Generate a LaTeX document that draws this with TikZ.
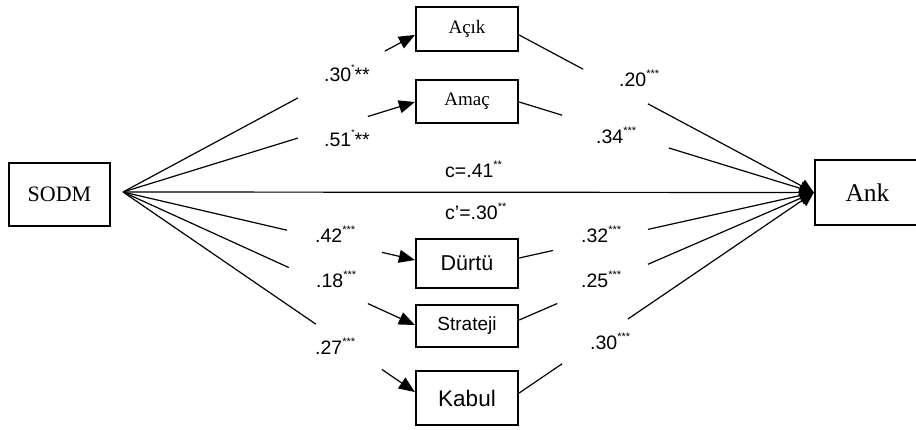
\documentclass[tikz,border=0pt]{standalone}
\usepackage{fontspec}
\setmainfont{Liberation Sans}
\newfontfamily\serifface{Liberation Serif}
\usetikzlibrary{calc,arrows.meta}
\newcommand\sone{\raisebox{10.5pt}{\fontsize{8.5}{8.5}\selectfont *}}
\newcommand\stwo{\raisebox{9pt}{\fontsize{11}{11}\selectfont **}}
\newcommand\sthree{\raisebox{9pt}{\fontsize{11}{11}\selectfont ***}}
\tikzset{
  boxnode/.style={draw, line width=2.3pt, inner sep=0pt, minimum width=102pt},
  conn/.style={line width=1.2pt},
  arrl/.style={-{Triangle[length=16pt,width=13pt]}},
  arrr/.style={-{Triangle[length=14pt,width=14pt]}},
  lbl/.style={anchor=base west, inner sep=0pt, font=\fontsize{19.5}{22}\selectfont}
}
\begin{document}
\begin{tikzpicture}[x=1pt,y=-1pt]
\useasboundingbox (0,0) rectangle (916,429);
% nodes
\node[boxnode, minimum width=101pt, minimum height=63pt, font=\serifface\fontsize{22}{26}\selectfont] (sodm) at (59.5,194.5) {SODM};
\node[boxnode, minimum width=105pt, minimum height=65pt, font=\serifface\fontsize{25.5}{30}\selectfont] (ank) at (867.5,192.5) {Ank};
\node[boxnode, minimum height=44pt, font=\serifface\fontsize{19}{22}\selectfont] (acik) at (467,29) {Açık};
\node[boxnode, minimum height=43pt, font=\serifface\fontsize{19}{22}\selectfont] (amac) at (467,101.5) {Amaç};
\node[boxnode, minimum height=49pt, font=\fontsize{21.5}{25}\selectfont] (durtu) at (467,263.5) {Dürtü};
\node[boxnode, minimum height=42pt, font=\fontsize{19}{22}\selectfont] (strateji) at (467,326) {Strateji};
\node[boxnode, minimum height=54pt, font=\fontsize{22.5}{26}\selectfont] (kabul) at (467,398) {Kabul};
% coordinates
\coordinate (src) at (123,192);
\coordinate (la) at ($(acik.west)+(0,6)$);
\coordinate (lb) at ($(amac.west)+(0,0.5)$);
\coordinate (ld) at ($(durtu.west)+(0,-3.5)$);
\coordinate (ls) at ($(strateji.west)+(0,-1)$);
\coordinate (lk) at ($(kabul.west)+(0,-6)$);
\coordinate (ra) at ($(acik.east)+(0,6)$);
\coordinate (rb) at ($(amac.east)+(0,0.5)$);
\coordinate (rd) at ($(durtu.east)+(0,-5.5)$);
\coordinate (rs) at ($(strateji.east)+(0,-6)$);
\coordinate (rk) at ($(kabul.east)+(0,-5)$);
\coordinate (tgt) at (ank.west);
% left connectors
\draw[conn] (src) -- ($(src)!0.599!(la)$);
\draw[conn,arrl] ($(src)!0.897!(la)$) -- (la);
\draw[conn] (src) -- ($(src)!0.599!(lb)$);
\draw[conn,arrl] ($(src)!0.839!(lb)$) -- (lb);
\draw[conn] (src) -- ($(src)!0.562!(ld)$);
\draw[conn,arrl] ($(src)!0.887!(ld)$) -- (ld);
\draw[conn] (src) -- ($(src)!0.568!(ls)$);
\draw[conn,arrl] ($(src)!0.839!(ls)$) -- (ls);
\draw[conn] (src) -- ($(src)!0.661!(lk)$);
\draw[conn,arrl] ($(src)!0.887!(lk)$) -- (lk);
% direct path
\draw[conn,arrr] (src) -- (tgt);
% right connectors
\draw[conn] (ra) -- ($(ra)!0.217!(tgt)$);
\draw[conn,arrr] ($(ra)!0.437!(tgt)$) -- (tgt);
\draw[conn] (rb) -- ($(rb)!0.146!(tgt)$);
\draw[conn,arrr] ($(rb)!0.508!(tgt)$) -- (tgt);
\draw[conn] (rd) -- ($(rd)!0.115!(tgt)$);
\draw[conn,arrr] ($(rd)!0.437!(tgt)$) -- (tgt);
\draw[conn] (rs) -- ($(rs)!0.129!(tgt)$);
\draw[conn,arrr] ($(rs)!0.437!(tgt)$) -- (tgt);
\draw[conn] (rk) -- ($(rk)!0.146!(tgt)$);
\draw[conn,arrr] ($(rk)!0.369!(tgt)$) -- (tgt);
% labels
\node[lbl] (l1) at (324,81) {.30\sone**};
\node[lbl] (l2) at (324,146) {.51\sone**};
\node[lbl] (l3) at (619,86) {.20\sthree};
\node[lbl] (l4) at (596,143) {.34\sthree};
\node[lbl] (l5) at (315,242) {.42\sthree};
\node[lbl] (l6) at (316,287) {.18\sthree};
\node[lbl] (l7) at (315,354) {.27\sthree};
\node[lbl] (l8) at (581,242) {.32\sthree};
\node[lbl] (l9) at (581,287) {.25\sthree};
\node[lbl] (l10) at (590,349) {.30\sthree};
\node[lbl] (l11) at (445,177) {c=.41\stwo};
\node[lbl] (l12) at (445,219) {c'=.30\stwo};
\end{tikzpicture}
\end{document}
